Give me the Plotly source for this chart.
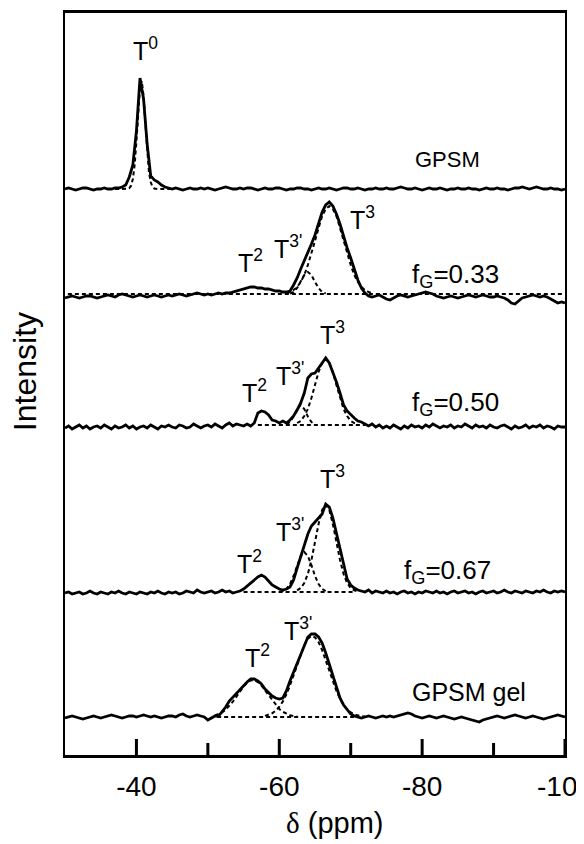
import plotly.graph_objects as go

# ---------------- data ----------------
# chemical shift grid of the measured spectra (ppm), 0.5 ppm steps
DELTA = [round(-30.0 - 0.5 * i, 2) for i in range(141)]

# measured intensities (arbitrary units, relative to each trace's fit baseline)
GPSM = [0, 1, 0, -1, 0, 1, 1, 0, -1, 0,
        0, 1, 0, 0, 1, 1, 2, 4, 12, 24,
        58, 111, 90, 45, 13, 9, 7, 4, 2, 1,
        0, 1, 0, -1, 0, 1, 0, 0, 1, 0,
        1, 0, -1, 0, 1, 2, 1, 0, 0, 1,
        0, 1, 1, 0, -1, 0, 1, 0, 0, 1,
        1, 0, -1, 0, 0, 1, 1, 0, 0, -1,
        0, 1, 0, 0, 1, 0, -1, 0, 1, 1,
        0, 0, 1, 0, -1, 0, 0, 1, 0, 0,
        1, 0, 0, 1, 2, 1, 0, 0, 1, 0,
        -1, 0, 1, 0, 0, 1, 0, -1, 0, 0,
        1, 0, 0, 1, 0, 0, -1, 0, 1, 0,
        0, 1, 0, 0, -1, 0, 1, 1, 2, 1,
        0, 1, 2, 1, 0, 0, 1, 0, 0, -1,
        0]

FG033 = [-4, -3, -2, -3, -4, -3, -2, -2, -3, -4,
         -3, -2, -1, -2, -3, -1, 0, -1, -2, -3,
         -2, -1, -2, -3, -2, -1, -2, -3, -2, -1,
         -2, -1, 0, -1, -2, -1, 0, 1, 0, -1,
         0, -1, 0, 1, 0, 1, 1, 2, 3, 4,
         5, 6, 7, 7, 6, 6, 5, 5, 4, 3,
         3, 2, 2, 3, 9, 16, 25, 33, 41, 50,
         59, 70, 82, 89, 92, 88, 80, 70, 57, 46,
         36, 25, 14, 6, 1, -2, -3, -2, -1, -3,
         -5, -6, -4, -2, -1, -2, -3, -2, -1, 0,
         1, 2, 1, 0, -2, -3, -4, -3, -2, -3,
         -4, -3, -2, -1, -2, -3, -2, -1, -2, -3,
         -3, -2, -3, -4, -6, -9, -10, -7, -4, -3,
         -2, -1, -2, -3, -2, -3, -5, -7, -9, -8,
         -9]

FG050 = [-3, -1, -4, -2, 0, -3, -1, -4, -2, -1,
         -3, 0, -2, -4, -1, -3, -2, 0, -3, -1,
         -4, -2, -1, -3, 0, -2, -4, -1, -2, 0,
         -2, -3, 0, -1, -3, -2, 1, -1, -3, -1,
         0, -2, 1, -1, -3, 0, 2, -1, 1, 0,
         -1, 1, -1, 2, 12, 14, 13, 10, 5, 4,
         2, 4, 2, 5, 9, 15, 22, 32, 47, 51,
         52, 57, 62, 67, 62, 53, 43, 32, 20, 14,
         10, 7, 4, 3, 1, -1, 1, -2, 0, -3,
         -1, -3, 0, -2, -4, -1, -3, 0, -2, -1,
         -3, 0, -2, 1, -1, -3, -1, -2, 0, -3,
         -1, -2, 1, -1, -3, 0, -2, -1, -3, 0,
         -2, -3, -1, 0, -2, -4, -1, -3, -2, 0,
         -3, -1, -2, 0, -3, -1, -2, -4, -1, -2,
         -2]

FG067 = [-1, 0, -2, -1, 0, -2, -1, 1, -1, -2,
         0, -1, -2, 0, -1, 1, -1, -2, 0, -1,
         -2, 0, -1, -2, 0, -1, 1, -1, -2, 0,
         -1, 0, -2, -1, 1, 0, -1, 2, 0, -1,
         0, 1, -1, 0, 2, 0, 1, -1, 0, 1,
         3, 6, 9, 12, 15, 17, 15, 11, 7, 5,
         3, 2, 3, 5, 12, 24, 35, 47, 58, 66,
         70, 73, 78, 88, 85, 74, 59, 43, 26, 13,
         7, 4, 2, 1, 0, 2, -1, 1, 0, -1,
         1, -1, 0, -2, 0, 1, -1, 0, -2, 0,
         -1, 1, 0, -1, 1, -1, 0, -2, 0, 1,
         -1, 0, 1, -1, 0, -2, 0, 1, -1, 0,
         1, -1, 0, 2, 0, -1, 1, 0, -1, 1,
         0, -1, 1, 0, 2, 0, -1, 1, 0, 1,
         0]

GEL = [-1, 0, 1, 0, -1, -2, -1, 0, 1, 0,
       -1, 0, 1, 2, 1, 0, -1, 0, 1, 1,
       0, 1, 2, 1, 0, 1, 0, -1, 0, 1,
       1, 0, 2, 3, 1, 0, 1, 2, 1, 0,
       -3, -1, 1, 1, 5, 10, 16, 20, 24, 27,
       31, 35, 38, 38, 36, 33, 28, 24, 21, 19,
       18, 19, 26, 36, 45, 55, 64, 73, 80, 83,
       83, 80, 74, 64, 53, 41, 29, 19, 12, 7,
       3, 1, 0, -1, 0, 1, 0, -1, 0, 1,
       0, 1, 0, 1, 2, 3, 4, 3, 1, 0,
       -1, 0, 1, 0, -1, 0, 1, 0, -1, -2,
       -1, 0, -1, -2, -3, -4, -5, -3, -2, -1,
       0, 1, 0, -1, 0, 1, 2, 1, 0, -1,
       0, 1, 0, -1, -2, -1, 0, 1, 2, 1,
       0]

# fitted components: (first shift, step in ppm, values)
FIT_GPSM_T0 = (-37.0, 0.25, [0, 0, 0, 0, 0, 0, 0, 0.2, 0.9, 3.3, 10, 24, 48, 77, 101, 108,
                             93, 66, 37, 17, 7, 2, 0.5, 0, 0, 0, 0, 0, 0, 0, 0, 0, 0])
FIT_033_T3 = (-61.0, 0.5, [1, 2, 4, 7, 12, 19, 29, 40, 53, 66, 78, 85, 88, 85, 78, 66, 53,
                           40, 29, 19, 12, 7, 4, 2, 1])
FIT_033_T3P = (-61.5, 0.5, [0.5, 2, 6, 12, 19, 22, 19, 12, 6, 2, 0.5])
FIT_050_T3 = (-62.5, 0.5, [2, 4, 9, 16, 27, 40, 53, 62, 66, 62, 53, 40, 27, 16, 9, 4, 2, 1])
FIT_050_T3P = (-61.0, 0.5, [0.7, 3, 8.5, 16, 20, 16, 8.5, 3, 0.6])
FIT_067_T3 = (-62.5, 0.5, [1.6, 4, 9, 18, 32, 50, 68, 82, 87, 82, 68, 50, 32, 18, 9, 4, 1.6, 0.5])
FIT_067_T3P = (-60.0, 0.5, [0.3, 1, 3, 8, 16, 27, 36, 40, 36, 27, 16, 8, 3, 1])
FIT_GEL_T2 = (-51.0, 0.5, [1.6, 2.8, 4.6, 7.3, 10.9, 15.3, 20.4, 25.7, 30.6, 34.4, 36.6, 36.8,
                           35, 31.5, 26.8, 21.5, 16.3, 11.7, 7.9, 5.1, 3.1, 1.8, 1.0, 0.5])
FIT_GEL_T3P = (-58.0, 0.5, [1.1, 2.1, 3.7, 6.3, 10.2, 15.6, 22.7, 31.6, 41.7, 52.6, 63, 71.9,
                            78.2, 81, 79.7, 74.8, 66.8, 56.9, 46, 35.5, 26.1, 18.2, 12.1, 7.7,
                            4.6, 2.7, 1.5, 0.8, 0.4])

# fit baselines (shift range in ppm)
BASE_033 = (-30.4, -99.8)
BASE_050 = (-57.0, -72.0)
BASE_067 = (-55.0, -70.5)
BASE_GEL = (-51.3, -70.5)

SPECTRA = [GPSM, FG033, FG050, FG067, GEL]
FITS = [[FIT_GPSM_T0], [FIT_033_T3, FIT_033_T3P], [FIT_050_T3, FIT_050_T3P],
        [FIT_067_T3, FIT_067_T3P], [FIT_GEL_T2, FIT_GEL_T3P]]
BASES = [None, BASE_033, BASE_050, BASE_067, BASE_GEL]

X_TICKS = [-40, -60, -80, -100]
X_MINOR = [-50, -70, -90]

# ---------------- layout / style ----------------
OFFSETS = [566, 461, 330, 163, 38]   # vertical stacking of the traces
FONT = "Liberation Sans, Arial, Helvetica, sans-serif"
DASH = "4px,3px"
X_RANGE = [-30, -100]

fig = go.Figure()
for spec, off, fits, base in zip(SPECTRA, OFFSETS, FITS, BASES):
    if base is not None:
        fig.add_trace(go.Scatter(x=list(base), y=[off, off], mode="lines",
                                 line=dict(color="black", width=2, dash=DASH),
                                 hoverinfo="skip"))
    for start, step, vals in fits:
        xs = [start - step * k for k in range(len(vals))]
        fig.add_trace(go.Scatter(x=xs, y=[off + v for v in vals], mode="lines",
                                 line=dict(color="black", width=2, dash=DASH),
                                 hoverinfo="skip"))
    fig.add_trace(go.Scatter(x=DELTA, y=[off + v for v in spec], mode="lines",
                             line=dict(color="black", width=2.8)))

# labels: (text, shift, y, xanchor, size)
LABELS = [
    ("T<sup>0</sup>", -41.3, 706, "center", 25),
    ("GPSM", -78.7, 596, "left", 22),
    ("T<sup>2</sup>", -55.9, 494, "center", 25),
    ("T<sup>3'</sup>", -61.2, 508, "center", 25),
    ("T<sup>3</sup>", -71.6, 537, "center", 25),
    ("f<sub>G</sub>=0.33", -78.3, 480, "left", 26),
    ("T<sup>3</sup>", -67.4, 422, "center", 25),
    ("T<sup>3'</sup>", -61.5, 381, "center", 25),
    ("T<sup>2</sup>", -56.5, 364, "center", 25),
    ("f<sub>G</sub>=0.50", -78.3, 352, "left", 26),
    ("T<sup>3</sup>", -67.4, 278, "center", 25),
    ("T<sup>3'</sup>", -61.5, 225, "center", 25),
    ("T<sup>2</sup>", -55.8, 193, "center", 25),
    ("f<sub>G</sub>=0.67", -77.2, 184, "left", 26),
    ("T<sup>2</sup>", -57.0, 99, "center", 25),
    ("T<sup>3'</sup>", -62.6, 126, "center", 25),
    ("GPSM gel", -78.3, 63, "left", 25),
]
for text, x, y, xa, size in LABELS:
    fig.add_annotation(x=x, y=y, xref="x", yref="y", text=text, showarrow=False,
                       xanchor=xa, yanchor="middle",
                       font=dict(family=FONT, size=size, color="black"))

fig.add_annotation(x=0.538, y=-0.0916, xref="paper", yref="paper",
                   text="<span style=\"font-family:'Liberation Serif', serif\">δ</span> (ppm)",
                   showarrow=False, xanchor="center", yanchor="middle",
                   font=dict(family=FONT, size=29, color="black"))
fig.add_annotation(x=-0.08, y=0.516, xref="paper", yref="paper", text="Intensity",
                   textangle=-90, showarrow=False, xanchor="center", yanchor="middle",
                   font=dict(family=FONT, size=32, color="black"))

# inward tick marks on the bottom axis, placed by the x scale (length in pixels)
for vals, length in ((X_TICKS, 16), (X_MINOR, 12)):
    for v in vals:
        fig.add_shape(type="line", xref="x", yref="paper", x0=v, x1=v,
                      ysizemode="pixel", yanchor=0, y0=0, y1=length, opacity=1,
                      line=dict(color="#000000", width=3), layer="above")

fig.update_layout(
    template="simple_white",
    width=576, height=836,
    margin=dict(l=57, r=19, t=5, b=89, autoexpand=False),
    paper_bgcolor="white", plot_bgcolor="white",
    showlegend=False,
    font=dict(family=FONT, color="black"),
    xaxis=dict(range=X_RANGE, tickmode="array", tickvals=X_TICKS,
               ticktext=[str(v) for v in X_TICKS],
               ticks="", showline=True, linecolor="black", linewidth=3, mirror=True,
               showgrid=False, zeroline=False, ticklabeloverflow="allow",
               ticklabelstandoff=4,
               tickfont=dict(family=FONT, size=28, color="black")),
    yaxis=dict(range=[0, 742], showticklabels=False, ticks="",
               showline=True, linecolor="black", linewidth=2, mirror=True,
               showgrid=False, zeroline=False),
)

fig.write_html("out.html")
